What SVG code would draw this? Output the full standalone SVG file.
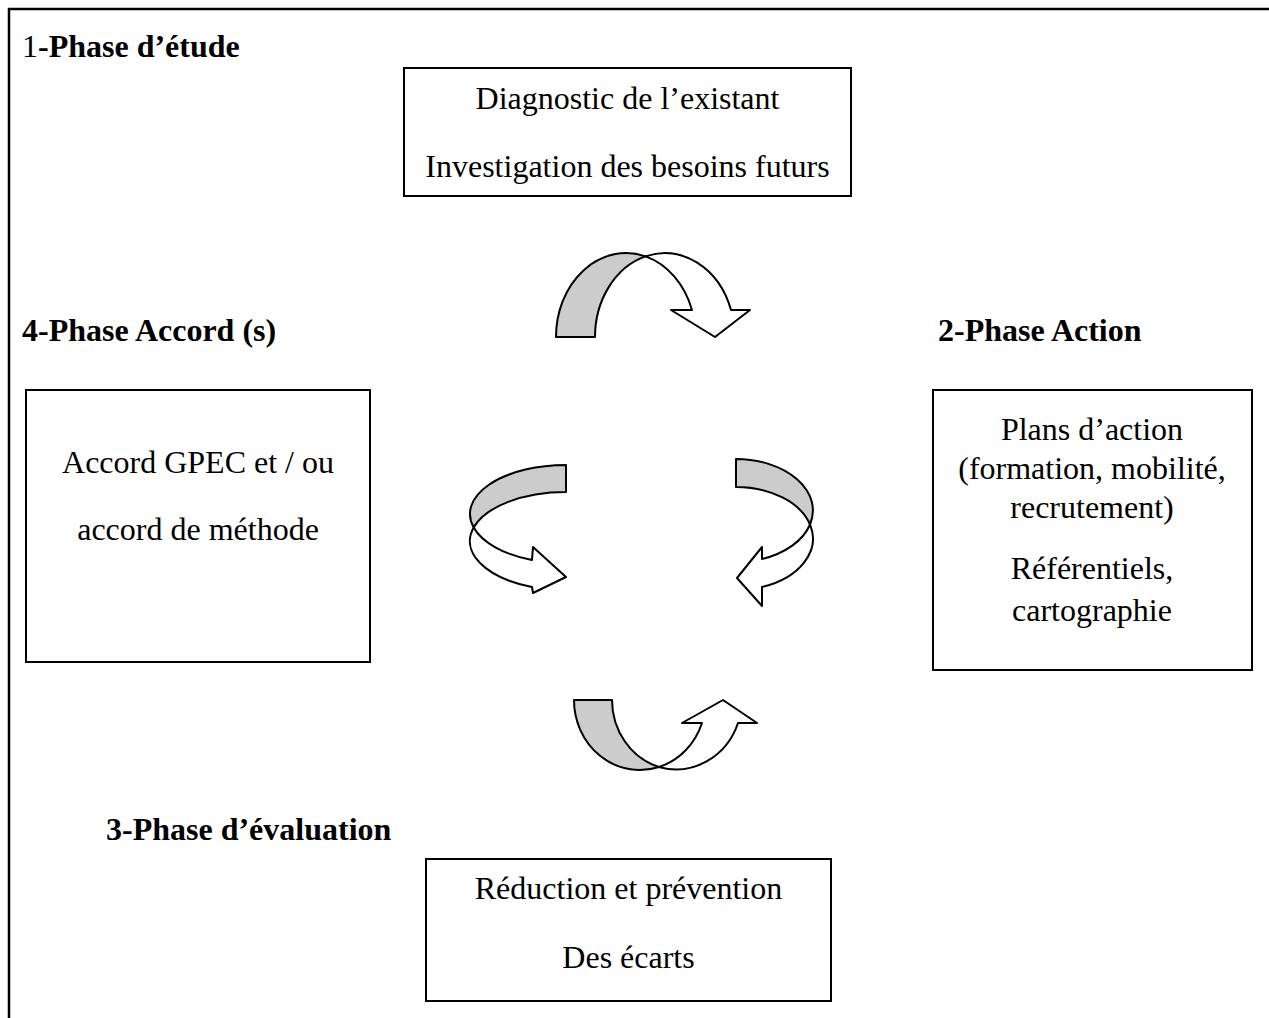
<svg xmlns="http://www.w3.org/2000/svg" width="1269" height="1018" viewBox="0 0 1269 1018">
<style>
.box{fill:#fff;stroke:#000;stroke-width:2}
.t{font-family:"Liberation Serif","Times New Roman",serif;font-size:32px;fill:#000}
.c{text-anchor:middle}
.h{font-weight:bold}
.g{fill:#cccccc;stroke:#000;stroke-width:2;stroke-linejoin:round}
.w{fill:#fff;stroke:#000;stroke-width:2;stroke-linejoin:round}
</style>
<rect width="1269" height="1018" fill="#fff"/>
<path d="M9,1018 V9 H1269" fill="none" stroke="#000" stroke-width="2.5"/>

<g id="heading1"><text class="t h" x="22" y="57"><tspan font-weight="normal">1</tspan>-Phase d’étude</text></g>
<g id="heading4"><text class="t h" x="22" y="341">4-Phase Accord (s)</text></g>
<g id="heading2"><text class="t h" x="938" y="341">2-Phase Action</text></g>
<g id="heading3"><text class="t h" x="106" y="840">3-Phase d’évaluation</text></g>

<g id="node-etude">
<rect class="box" x="404" y="68" width="447" height="128"/>
<text class="t c" x="627.5" y="109">Diagnostic de l’existant</text>
<text class="t c" x="627.5" y="177">Investigation des besoins futurs</text>
</g>

<g id="node-accord">
<rect class="box" x="26" y="390" width="344" height="272"/>
<text class="t c" x="198" y="473">Accord GPEC et / ou</text>
<text class="t c" x="198" y="540">accord de méthode</text>
</g>

<g id="node-action">
<rect class="box" x="933" y="390" width="319" height="280"/>
<text class="t c" x="1092" y="440">Plans d’action</text>
<text class="t c" x="1092" y="479">(formation, mobilité,</text>
<text class="t c" x="1092" y="518">recrutement)</text>
<text class="t c" x="1092" y="579">Référentiels,</text>
<text class="t c" x="1092" y="621">cartographie</text>
</g>

<g id="node-evaluation">
<rect class="box" x="426" y="859" width="405" height="142"/>
<text class="t c" x="628.5" y="899">Réduction et prévention</text>
<text class="t c" x="628.5" y="968">Des écarts</text>
</g>

<g id="connectors">
<g id="arrow-top">
<path class="g" d="M556,337 A70,84 0 0 1 645.5,256.4 A70,84 0 0 0 595,337 Z"/>
<path class="w" d="M645.5,256.4 A70,84 0 0 1 731,310 L750,310 L715,337 L671,310 L692,310 A70,84 0 0 0 645.5,256.4 Z"/>
</g>
<g id="arrow-right">
<path class="g" d="M736,459 A77,51.5 0 0 1 810,524.5 A77,51.5 0 0 0 736,487 Z"/>
<path class="w" d="M810,524.5 A77,51.5 0 0 1 762,587 L762,606 L737,578 L762,547 L762,559 A77,51.5 0 0 0 810,524.5 Z"/>
</g>
<g id="arrow-bottom">
<path class="g" d="M574,700 L612,700 A65.8,70 0 0 0 659,767 A65.8,70 0 0 1 574,700 Z"/>
<path class="w" d="M659,767 A65.8,70 0 0 0 738,723 L757,723 L723,700 L682,723 L702,723 A65.8,70 0 0 1 659,767 Z"/>
</g>
<g id="arrow-left">
<path class="g" d="M566,465 A96,49 0 0 0 473.7,527.5 A96,49 0 0 1 566,492 Z"/>
<path class="w" d="M473.7,527.5 A96,49 0 0 0 532,587 L533,593 L566,577 L533,547 L532,560 A96,49 0 0 1 473.7,527.5 Z"/>
</g>
</g>
</svg>
